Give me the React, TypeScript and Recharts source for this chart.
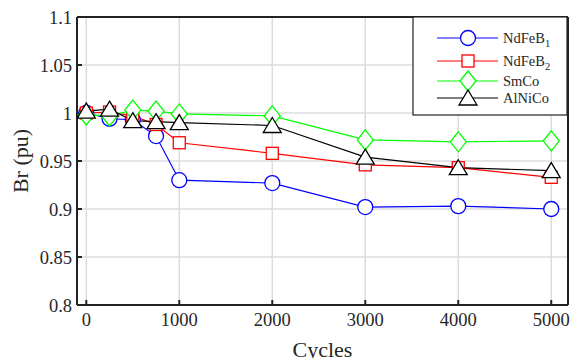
import React from 'react';
import { LineChart, Line, XAxis, YAxis, CartesianGrid } from 'recharts';

const cycles = [0, 250, 500, 750, 1000, 2000, 3000, 4000, 5000];
const ndfeb1 = [1.0, 0.994, 0.993, 0.976, 0.930, 0.927, 0.902, 0.903, 0.900];
const ndfeb2 = [1.0, 1.001, 0.997, 0.988, 0.969, 0.958, 0.946, 0.943, 0.933];
const smco = [0.998, 0.997, 1.003, 1.002, 0.999, 0.997, 0.972, 0.970, 0.971];
const alnico = [1.002, 1.004, 0.992, 0.991, 0.990, 0.987, 0.954, 0.943, 0.940];

const xTicks = [0, 1000, 2000, 3000, 4000, 5000];
const yTicks = [0.8, 0.85, 0.9, 0.95, 1, 1.05, 1.1];

const seriesNames = ['NdFeB', 'NdFeB', 'SmCo', 'AlNiCo'];
const seriesSubs = ['1', '2', '', ''];
const seriesKeys = ['ndfeb1', 'ndfeb2', 'smco', 'alnico'];
const seriesColors = ['#0000ff', '#ff0000', '#00ff00', '#000000'];
const seriesShapes = ['circle', 'square', 'diamond', 'triangle'];

const data = cycles.map((c, i) => ({
  cycles: c,
  ndfeb1: ndfeb1[i],
  ndfeb2: ndfeb2[i],
  smco: smco[i],
  alnico: alnico[i],
}));

const FONT = 'Liberation Serif, Tinos, Times New Roman, Times, DejaVu Serif, serif';
const TEXT = '#262626';

function Marker({ shape, cx, cy, color }: { shape: string; cx: number; cy: number; color: string }) {
  const sw = 1.3;
  if (shape === 'circle') {
    return <circle cx={cx} cy={cy} r={7.5} fill="#fff" stroke={color} strokeWidth={sw} />;
  }
  if (shape === 'square') {
    return <rect x={cx - 6} y={cy - 6} width={12} height={12} fill="#fff" stroke={color} strokeWidth={sw} />;
  }
  if (shape === 'diamond') {
    return (
      <polygon
        points={`${cx},${cy - 10} ${cx + 8},${cy} ${cx},${cy + 10} ${cx - 8},${cy}`}
        fill="#fff"
        stroke={color}
        strokeWidth={sw}
      />
    );
  }
  return (
    <polygon
      points={`${cx},${cy - 8} ${cx + 9},${cy + 7} ${cx - 9},${cy + 7}`}
      fill="#fff"
      stroke={color}
      strokeWidth={sw}
    />
  );
}

const makeDot = (shape: string, color: string) => (props: any) => {
  const { cx, cy, index } = props;
  return <Marker key={`${shape}-${index}`} shape={shape} cx={cx} cy={cy} color={color} />;
};

const legendRows = [38, 61, 81, 98];

export default function App() {
  return (
    <div style={{ position: 'absolute', left: 0, top: 0, width: 573, height: 358, background: '#fff', fontFamily: FONT }}>
      <LineChart
        width={573}
        height={358}
        data={data}
        margin={{ top: 17, right: 5, bottom: 0, left: 0 }}
        style={{ fontFamily: FONT }}
      >
        <CartesianGrid stroke="#dcdcdc" strokeWidth={1.5} />
        <XAxis
          dataKey="cycles"
          type="number"
          domain={[-100, 5180]}
          ticks={xTicks}
          allowDataOverflow
          height={53}
          tickSize={-5}
          tickMargin={13}
          axisLine={{ stroke: '#222', strokeWidth: 2 }}
          tickLine={{ stroke: '#222', strokeWidth: 2 }}
          tick={{ fontFamily: FONT, fontSize: 18.5, fill: TEXT, style: { fontFamily: FONT } }}
          label={{
            value: 'Cycles',
            position: 'insideBottom',
            offset: 1,
            style: { fontFamily: FONT, fontSize: 22, fill: TEXT },
          }}
        />
        <XAxis
          xAxisId="top"
          dataKey="cycles"
          type="number"
          orientation="top"
          mirror
          domain={[-100, 5180]}
          ticks={xTicks}
          allowDataOverflow
          tick={false}
          tickSize={5}
          axisLine={{ stroke: '#222', strokeWidth: 2 }}
          tickLine={{ stroke: '#222', strokeWidth: 2 }}
        />
        <YAxis
          type="number"
          domain={[0.8, 1.1]}
          ticks={yTicks}
          allowDataOverflow
          width={77}
          tickSize={-5}
          tickMargin={10}
          axisLine={{ stroke: '#222', strokeWidth: 2 }}
          tickLine={{ stroke: '#222', strokeWidth: 2 }}
          tick={{ fontFamily: FONT, fontSize: 18.5, fill: TEXT, style: { fontFamily: FONT } }}
          label={{
            value: 'Br (pu)',
            angle: -90,
            position: 'insideLeft',
            offset: 20,
            style: { fontFamily: FONT, fontSize: 22, fill: TEXT, textAnchor: 'middle' },
          }}
        />
        <YAxis
          yAxisId="right"
          type="number"
          orientation="right"
          mirror
          domain={[0.8, 1.1]}
          ticks={yTicks}
          allowDataOverflow
          tick={false}
          tickSize={5}
          axisLine={{ stroke: '#222', strokeWidth: 2 }}
          tickLine={{ stroke: '#222', strokeWidth: 2 }}
        />
        {seriesKeys.map((k, i) => (
          <Line
            key={k}
            dataKey={k}
            type="linear"
            stroke={seriesColors[i]}
            strokeWidth={1.2}
            dot={makeDot(seriesShapes[i], seriesColors[i])}
            activeDot={false}
            isAnimationActive={false}
          />
        ))}
      </LineChart>
      <svg
        width={573}
        height={358}
        style={{ position: 'absolute', left: 0, top: 0, pointerEvents: 'none', fontFamily: FONT }}
      >
        <rect x={413} y={17} width={154} height={98} fill="#fff" stroke="#222" strokeWidth={1.2} />
        {seriesKeys.map((k, i) => {
          const y = legendRows[i];
          return (
            <g key={k}>
              <line x1={437} x2={498} y1={y} y2={y} stroke={seriesColors[i]} strokeWidth={1.2} />
              <Marker shape={seriesShapes[i]} cx={468} cy={y} color={seriesColors[i]} />
              <text x={503} y={y + 5} style={{ fontFamily: FONT }} fontSize={14.5} fill={TEXT}>
                {seriesNames[i]}
                {seriesSubs[i] ? (
                  <tspan dy={4} fontSize={10.5}>
                    {seriesSubs[i]}
                  </tspan>
                ) : null}
              </text>
            </g>
          );
        })}
      </svg>
    </div>
  );
}
